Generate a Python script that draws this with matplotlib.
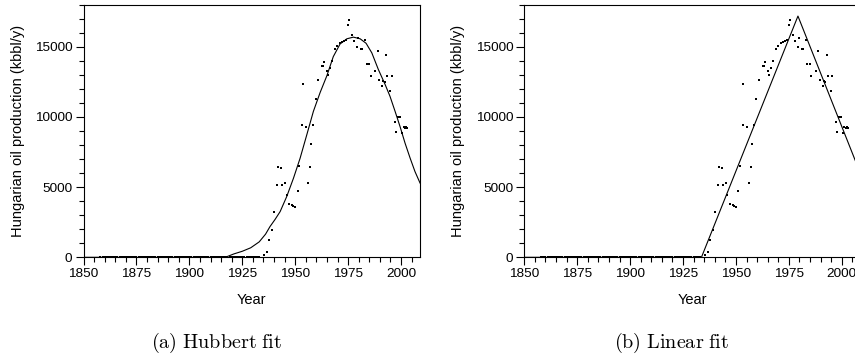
import matplotlib
matplotlib.use('Agg')
import matplotlib.pyplot as plt
from matplotlib.ticker import MultipleLocator

plt.rcParams['font.family'] = ['Liberation Sans', 'DejaVu Sans']
plt.rcParams['mathtext.fontset'] = 'cm'

# production data (kbbl/y)
early_years = list(range(1858, 1934))
early_prod = [0] * len(early_years)
late_years = [1935.3, 1936.9, 1937.8, 1939.2, 1940.0, 1941.3, 1942.1, 1943.3, 1943.8,
              1945.2, 1946.0, 1947.3, 1948.4, 1949.0, 1950.0, 1951.2, 1951.8, 1953.1,
              1953.5, 1955.0, 1956.0, 1957.0, 1957.5, 1958.6, 1959.7, 1960.9, 1962.6,
              1963.3, 1963.7, 1965.2, 1965.7, 1966.5, 1967.3, 1968.9, 1969.7, 1971.2,
              1972.0, 1973.1, 1974.1, 1975.1, 1975.6, 1977.0, 1977.8, 1979.1, 1979.9,
              1981.0, 1981.6, 1983.0, 1983.8, 1984.9, 1985.7, 1987.8, 1989.0, 1989.6,
              1990.9, 1991.6, 1992.3, 1993.0, 1993.6, 1994.8, 1995.6, 1997.2, 1997.7,
              1998.8, 1999.6, 2000.7, 2001.2, 2001.8, 2002.4, 2003.0]
late_prod = [143, 357, 1240, 1950, 3260, 5160, 6450, 6350, 5160,
             5280, 4450, 3810, 3740, 3660, 3570, 4690, 6520, 9400,
             12380, 9290, 5260, 6470, 8090, 9400, 11290, 12660, 13610,
             13610, 13900, 13260, 13020, 13500, 13970, 14860, 15040, 15280,
             15330, 15400, 15470, 16520, 16900, 15810, 15400, 15000, 15640,
             14860, 14810, 15470, 13740, 13740, 12900, 13300, 14690, 12620,
             12190, 12550, 12500, 14400, 12900, 11880, 12900, 9620, 8900,
             10000, 10000, 8860, 9300, 9200, 9280, 9200]
years = early_years + late_years
prod = early_prod + late_prod

# Hubbert fit curve
hub_years = [1850, 1915, 1918, 1921, 1925, 1929, 1933, 1936, 1938.1, 1940.5, 1942.9,
             1946, 1949.2, 1952.3, 1955.5, 1958.6, 1961.8, 1965, 1968, 1971.2, 1974.4,
             1977.5, 1980.7, 1983.5, 1986.2, 1989.3, 1992.5, 1994.8, 1997.2, 1999.6,
             2001.9, 2004.3, 2006.6, 2009]
hub_prod = [0, 0, 60, 240, 430, 680, 1100, 1650, 2190, 2700, 3260,
            4330, 5640, 7050, 8740, 10400, 11750, 12950, 14300, 15200, 15570,
            15690, 15570, 15250, 14570, 13380, 12310, 11470, 10400, 9290,
            8140, 7070, 6110, 5290]

# linear fit
lin_years = [1850, 1933.7, 1979.3, 2009]
lin_prod = [0, 0, 17190, 5900]

fig = plt.figure(figsize=(8.55, 3.62), dpi=100)
ax1 = fig.add_axes([0.0977, 0.2892, 0.3936, 0.6978])
ax2 = fig.add_axes([0.6132, 0.2892, 0.3936, 0.6978])

for ax, fx, fy in [(ax1, hub_years, hub_prod), (ax2, lin_years, lin_prod)]:
    ax.plot(fx, fy, color='k', lw=0.8)
    ax.plot(years, prod, 's', ms=2.1, mew=0, color='k', clip_on=False)
    ax.set_xlim(1850, 2009)
    ax.set_ylim(0, 18000)
    ax.xaxis.set_major_locator(MultipleLocator(25))
    ax.xaxis.set_minor_locator(MultipleLocator(5))
    ax.yaxis.set_major_locator(MultipleLocator(5000))
    ax.yaxis.set_minor_locator(MultipleLocator(1000))
    ax.tick_params(which='major', direction='out', length=6, width=0.8,
                   labelsize=9.7, pad=2)
    ax.tick_params(which='minor', direction='out', length=3.3, width=0.8)
    for s in ax.spines.values():
        s.set_linewidth(0.8)
    ax.set_xlabel('Year', fontsize=10.5)
    ax.set_ylabel('Hungarian oil production (kbbl/y)', fontsize=10.5)
    ax.xaxis.set_label_coords(0.5, -0.14)
    ax.yaxis.set_label_coords(-0.175, 0.5)

fig.text(217 / 855, 1 - 343 / 362, r'$\mathrm{(a)\ Hubbert\ fit}$',
         ha='center', va='center', fontsize=14.5)
fig.text(672 / 855, 1 - 343 / 362, r'$\mathrm{(b)\ Linear\ fit}$',
         ha='center', va='center', fontsize=14.5)

fig.savefig('out.png', dpi=100)
